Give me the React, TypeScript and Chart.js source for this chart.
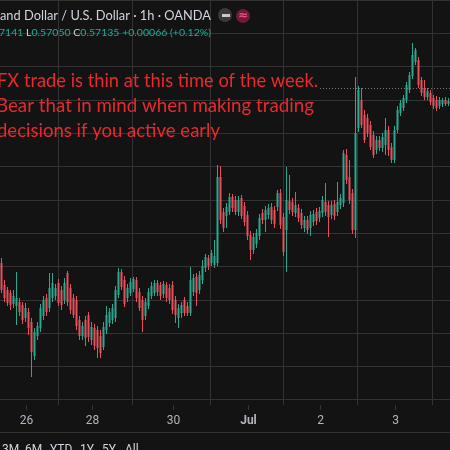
import React, { useEffect, useRef } from 'react';
import { Chart, registerables } from 'chart.js';

Chart.register(...registerables);

// NZD/USD 1h candles
const opens = [
  0.56611, 0.56545, 0.56530, 0.56521, 0.56488, 0.56482, 0.56494, 0.56485, 0.56446, 0.56464,
  0.56434, 0.56332, 0.56392, 0.56416, 0.56452, 0.56506, 0.56476, 0.56506, 0.56512, 0.56551,
  0.56530, 0.56500, 0.56581, 0.56536, 0.56506, 0.56500, 0.56440, 0.56392, 0.56440, 0.56455,
  0.56380, 0.56416, 0.56410, 0.56392, 0.56359, 0.56410, 0.56431, 0.56440, 0.56446, 0.56515,
  0.56584, 0.56560, 0.56506, 0.56521, 0.56533, 0.56560, 0.56524, 0.56500, 0.56452, 0.56482,
  0.56512, 0.56521, 0.56551, 0.56545, 0.56518, 0.56545, 0.56536, 0.56545, 0.56500, 0.56446,
  0.56461, 0.56500, 0.56482, 0.56461, 0.56524, 0.56569, 0.56530, 0.56560, 0.56596, 0.56626,
  0.56611, 0.56605, 0.56611, 0.56869, 0.56764, 0.56752, 0.56764, 0.56809, 0.56800, 0.56764,
  0.56806, 0.56782, 0.56755, 0.56695, 0.56650, 0.56668, 0.56692, 0.56761, 0.56740, 0.56755,
  0.56779, 0.56770, 0.56779, 0.56821, 0.56749, 0.56710, 0.56797, 0.56794, 0.56761, 0.56776,
  0.56761, 0.56716, 0.56740, 0.56716, 0.56734, 0.56764, 0.56746, 0.56761, 0.56794, 0.56785,
  0.56755, 0.56788, 0.56764, 0.56785, 0.56791, 0.56935, 0.56869, 0.56821, 0.56710, 0.57016,
  0.57100, 0.57055, 0.57046, 0.57025, 0.56995, 0.56950, 0.56980, 0.56956, 0.56965, 0.57010,
  0.56959, 0.56920, 0.57010, 0.57061, 0.57076, 0.57100, 0.57130, 0.57172, 0.57214, 0.57220,
  0.57160, 0.57136, 0.57109, 0.57121, 0.57106, 0.57100, 0.57082, 0.57088, 0.57100, 0.57088,
];
const highs = [
  0.56626, 0.56560, 0.56539, 0.56530, 0.56530, 0.56584, 0.56506, 0.56494, 0.56491, 0.56476,
  0.56446, 0.56416, 0.56434, 0.56488, 0.56512, 0.56518, 0.56581, 0.56581, 0.56548, 0.56563,
  0.56542, 0.56566, 0.56587, 0.56548, 0.56518, 0.56512, 0.56452, 0.56434, 0.56452, 0.56464,
  0.56434, 0.56428, 0.56422, 0.56410, 0.56434, 0.56482, 0.56476, 0.56488, 0.56542, 0.56596,
  0.56593, 0.56572, 0.56548, 0.56566, 0.56569, 0.56569, 0.56536, 0.56512, 0.56506, 0.56536,
  0.56554, 0.56560, 0.56560, 0.56554, 0.56557, 0.56554, 0.56548, 0.56557, 0.56512, 0.56488,
  0.56494, 0.56509, 0.56494, 0.56599, 0.56578, 0.56581, 0.56587, 0.56620, 0.56638, 0.56635,
  0.56650, 0.56680, 0.56905, 0.56902, 0.56776, 0.56791, 0.56821, 0.56818, 0.56812, 0.56812,
  0.56815, 0.56794, 0.56767, 0.56707, 0.56701, 0.56713, 0.56758, 0.56773, 0.56782, 0.56788,
  0.56791, 0.56782, 0.56830, 0.56833, 0.56761, 0.56899, 0.56875, 0.56806, 0.56824, 0.56788,
  0.56773, 0.56752, 0.56752, 0.56767, 0.56770, 0.56776, 0.56779, 0.56812, 0.56851, 0.56797,
  0.56797, 0.56800, 0.56854, 0.56818, 0.56950, 0.56953, 0.56920, 0.56833, 0.57169, 0.57142,
  0.57136, 0.57070, 0.57058, 0.57037, 0.57007, 0.56992, 0.56992, 0.57001, 0.57046, 0.57022,
  0.56971, 0.57022, 0.57082, 0.57100, 0.57115, 0.57154, 0.57184, 0.57271, 0.57256, 0.57229,
  0.57169, 0.57160, 0.57136, 0.57130, 0.57115, 0.57112, 0.57109, 0.57106, 0.57109, 0.57106,
];
const lows = [
  0.56521, 0.56494, 0.56482, 0.56470, 0.56476, 0.56425, 0.56452, 0.56428, 0.56434, 0.56395,
  0.56269, 0.56320, 0.56380, 0.56404, 0.56440, 0.56452, 0.56464, 0.56494, 0.56500, 0.56482,
  0.56470, 0.56488, 0.56482, 0.56458, 0.56446, 0.56410, 0.56380, 0.56380, 0.56362, 0.56374,
  0.56365, 0.56350, 0.56326, 0.56326, 0.56350, 0.56398, 0.56419, 0.56428, 0.56434, 0.56506,
  0.56530, 0.56479, 0.56494, 0.56512, 0.56524, 0.56494, 0.56467, 0.56404, 0.56440, 0.56473,
  0.56503, 0.56512, 0.56512, 0.56500, 0.56506, 0.56494, 0.56488, 0.56458, 0.56431, 0.56416,
  0.56446, 0.56452, 0.56452, 0.56452, 0.56512, 0.56482, 0.56518, 0.56548, 0.56584, 0.56590,
  0.56602, 0.56596, 0.56602, 0.56728, 0.56704, 0.56716, 0.56755, 0.56764, 0.56755, 0.56752,
  0.56743, 0.56722, 0.56680, 0.56620, 0.56638, 0.56656, 0.56680, 0.56728, 0.56704, 0.56743,
  0.56728, 0.56716, 0.56767, 0.56713, 0.56632, 0.56584, 0.56758, 0.56752, 0.56749, 0.56734,
  0.56713, 0.56704, 0.56698, 0.56692, 0.56722, 0.56725, 0.56734, 0.56749, 0.56752, 0.56689,
  0.56743, 0.56740, 0.56752, 0.56773, 0.56779, 0.56848, 0.56788, 0.56698, 0.56686, 0.57004,
  0.57016, 0.56971, 0.56989, 0.56950, 0.56926, 0.56938, 0.56947, 0.56944, 0.56935, 0.56932,
  0.56911, 0.56911, 0.57001, 0.57052, 0.57067, 0.57091, 0.57121, 0.57163, 0.57205, 0.57136,
  0.57112, 0.57100, 0.57100, 0.57085, 0.57073, 0.57067, 0.57073, 0.57079, 0.57082, 0.57082,
];
const closes = [
  0.56530, 0.56506, 0.56491, 0.56485, 0.56512, 0.56506, 0.56464, 0.56440, 0.56476, 0.56416,
  0.56344, 0.56404, 0.56422, 0.56476, 0.56500, 0.56464, 0.56536, 0.56551, 0.56536, 0.56491,
  0.56485, 0.56551, 0.56494, 0.56470, 0.56455, 0.56422, 0.56392, 0.56422, 0.56386, 0.56389,
  0.56419, 0.56362, 0.56356, 0.56341, 0.56419, 0.56455, 0.56464, 0.56476, 0.56530, 0.56584,
  0.56539, 0.56488, 0.56536, 0.56554, 0.56563, 0.56506, 0.56476, 0.56440, 0.56494, 0.56524,
  0.56542, 0.56551, 0.56524, 0.56512, 0.56548, 0.56506, 0.56500, 0.56470, 0.56455, 0.56476,
  0.56485, 0.56461, 0.56461, 0.56560, 0.56566, 0.56521, 0.56575, 0.56602, 0.56629, 0.56602,
  0.56641, 0.56632, 0.56869, 0.56740, 0.56716, 0.56779, 0.56809, 0.56776, 0.56764, 0.56800,
  0.56752, 0.56734, 0.56692, 0.56650, 0.56689, 0.56701, 0.56746, 0.56740, 0.56770, 0.56776,
  0.56740, 0.56728, 0.56821, 0.56725, 0.56644, 0.56800, 0.56770, 0.56764, 0.56785, 0.56746,
  0.56725, 0.56740, 0.56710, 0.56755, 0.56758, 0.56737, 0.56767, 0.56800, 0.56764, 0.56749,
  0.56785, 0.56752, 0.56794, 0.56806, 0.56941, 0.56860, 0.56800, 0.56710, 0.57001, 0.57130,
  0.57025, 0.56980, 0.57001, 0.56959, 0.56935, 0.56980, 0.56956, 0.56989, 0.57010, 0.56950,
  0.56920, 0.57010, 0.57070, 0.57091, 0.57106, 0.57145, 0.57175, 0.57235, 0.57250, 0.57145,
  0.57121, 0.57109, 0.57127, 0.57094, 0.57082, 0.57076, 0.57100, 0.57100, 0.57088, 0.57097,
];

// time axis: label and the bar where it sits
const dayLabels = ['26', '28', '30', 'Jul', '2', '3'];
const dayLabelBars = [8, 30, 57, 82, 106, 131];
// price grid
const priceGrid = [0.562, 0.563, 0.564, 0.565, 0.566, 0.567, 0.568, 0.569, 0.57, 0.571, 0.572, 0.573, 0.574];
const lastPrice = 0.57135;

const headerTitle = 'and Dollar / U.S. Dollar · 1h · OANDA';
const ohlcParts: [string, boolean][] = [
  ['7141 ', true], ['L', false], ['0.57050 ', true], ['C', false], ['0.57135 ', true], ['+0.00066 (+0.12%)', true],
];
const noteLines = [
  'FX trade is thin at this time of the week.',
  'Bear that in mind when making trading',
  'decisions if you active early',
];
const rangeButtons = ['3M', '6M', 'YTD', '1Y', '5Y', 'All'];

const UP = '#2ba88e';
const DOWN = '#e8505b';
const GRID = '#333333';
const BG = '#131313';

function fitText(ctx: CanvasRenderingContext2D, text: string, x: number, y: number, w: number) {
  const m = ctx.measureText(text).width;
  ctx.save();
  ctx.translate(x, y);
  ctx.scale(w / m, 1);
  ctx.fillText(text, 0, 0);
  ctx.restore();
}

const overlay = {
  id: 'overlay',
  afterDraw(chart: any) {
    const { ctx, chartArea } = chart;
    const ys = chart.scales.y;
    const xs = chart.scales.x;
    ctx.save();
    // last price dotted line
    const py = Math.round(ys.getPixelForValue(lastPrice)) + 0.5;
    ctx.strokeStyle = '#777777';
    ctx.lineWidth = 1;
    ctx.setLineDash([1, 2]);
    ctx.beginPath();
    ctx.moveTo(320, py);
    ctx.lineTo(chartArea.right, py);
    ctx.stroke();
    ctx.setLineDash([]);

    // time axis: tick marks + labels
    ctx.strokeStyle = GRID;
    ctx.fillStyle = '#b2b5be';
    ctx.textAlign = 'center';
    ctx.textBaseline = 'middle';
    dayLabelBars.forEach((b, i) => {
      const px = Math.round(xs.getPixelForValue(b)) + 0.5;
      ctx.beginPath();
      ctx.moveTo(px, chartArea.bottom);
      ctx.lineTo(px, chartArea.bottom + 5);
      ctx.stroke();
      ctx.font = (i === 3 ? 'bold ' : '') + '12px Roboto';
      ctx.fillText(dayLabels[i], px, 421);
    });

    // separator above range toolbar
    ctx.beginPath();
    ctx.moveTo(0, 432.5);
    ctx.lineTo(450, 432.5);
    ctx.stroke();

    // header title
    ctx.textBaseline = 'alphabetic';
    ctx.textAlign = 'left';
    ctx.fillStyle = '#d1d4dc';
    ctx.font = '13px Lato';
    fitText(ctx, headerTitle, 0, 20, 211);

    // OHLC line
    ctx.font = '10px Lato';
    const total = ohlcParts.reduce((s, p) => s + ctx.measureText(p[0]).width, 0);
    const sc = 212 / total;
    let x = -1;
    for (const [t, g] of ohlcParts) {
      ctx.fillStyle = g ? '#22ab94' : '#d1d4dc';
      const w = ctx.measureText(t).width * sc;
      fitText(ctx, t, x, 36, w);
      x += w;
    }

    // icons
    ctx.fillStyle = '#3a3a3a';
    ctx.beginPath();
    ctx.arc(225, 15, 7, 0, Math.PI * 2);
    ctx.fill();
    ctx.fillStyle = '#c8c8c8';
    ctx.fillRect(222, 14, 8, 3);
    ctx.fillStyle = '#6e1b3a';
    ctx.beginPath();
    ctx.arc(243, 16, 7, 0, Math.PI * 2);
    ctx.fill();
    ctx.fillStyle = '#f0508a';
    ctx.font = 'bold 12px "DejaVu Sans"';
    ctx.textAlign = 'center';
    ctx.textBaseline = 'middle';
    ctx.fillText('≈', 243, 16);

    // note text
    ctx.textAlign = 'left';
    ctx.textBaseline = 'alphabetic';
    ctx.fillStyle = '#e82a2f';
    ctx.font = '19px Lato';
    fitText(ctx, noteLines[0], -3, 87, 321);
    fitText(ctx, noteLines[1], -4, 112, 318);
    fitText(ctx, noteLines[2], -3, 137, 223);

    // range toolbar
    ctx.fillStyle = '#d1d4dc';
    ctx.font = '12px Roboto';
    ctx.textBaseline = 'top';
    const bx = [2, 25, 50, 80, 102, 125];
    rangeButtons.forEach((b, i) => ctx.fillText(b, bx[i], 444));
    ctx.restore();
  },
};

export default function App() {
  const ref = useRef<HTMLCanvasElement>(null);
  useEffect(() => {
    const canvas = ref.current!;
    const colors = closes.map((c, i) => (c >= opens[i] ? UP : DOWN));
    const chart = new Chart(canvas, {
      type: 'bar',
      data: {
        datasets: [
          {
            label: 'wick',
            data: lows.map((l, i) => ({ x: i, y: [l, highs[i]] })) as any,
            backgroundColor: colors,
            barThickness: 1,
            grouped: false,
            inflateAmount: 0,
          } as any,
          {
            label: 'body',
            data: opens.map((o, i) => ({ x: i, y: [o, closes[i]] })) as any,
            backgroundColor: colors,
            barThickness: 2,
            grouped: false,
            inflateAmount: 0,
            minBarLength: 1,
          } as any,
        ],
      },
      options: {
        animation: false,
        responsive: false,
        maintainAspectRatio: false,
        layout: { padding: { left: 0, right: 0, top: 0, bottom: 45 } },
        plugins: { legend: { display: false }, tooltip: { enabled: false } },
        scales: {
          x: {
            type: 'linear',
            min: -0.5,
            max: 149.5,
            offset: false,
            afterBuildTicks: (s: any) => {
              s.ticks = dayLabelBars.map((v) => ({ value: v }));
            },
            ticks: { display: false },
            grid: { color: GRID, drawTicks: false },
            border: { display: false },
          },
          y: {
            type: 'linear',
            position: 'right',
            min: 0.56185,
            max: 0.574,
            afterBuildTicks: (s: any) => {
              s.ticks = priceGrid.map((v) => ({ value: v }));
            },
            ticks: { display: false },
            grid: { color: GRID, drawTicks: false },
            border: { display: false },
          },
        },
      } as any,
      plugins: [overlay],
    });
    return () => chart.destroy();
  }, []);
  return (
    <div style={{ position: 'fixed', left: 0, top: 0, width: 450, height: 450, background: BG, overflow: 'hidden' }}>
      <canvas ref={ref} width={450} height={450} style={{ width: 450, height: 450, display: 'block' }} />
    </div>
  );
}
